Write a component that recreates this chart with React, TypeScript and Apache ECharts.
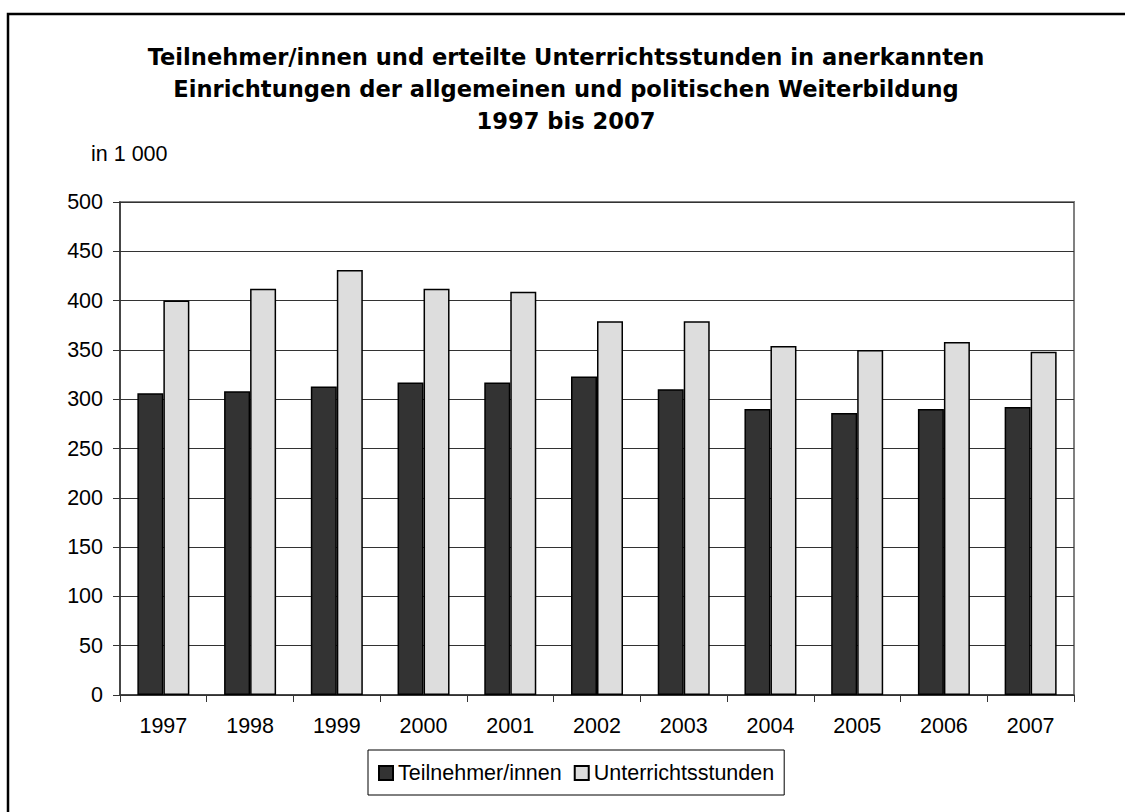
import React, { useEffect, useRef } from "react";
import * as echarts from "echarts";

const years = ["1997", "1998", "1999", "2000", "2001", "2002", "2003", "2004", "2005", "2006", "2007"];
const teilnehmer = [306, 308, 313, 317, 317, 323, 310, 290, 286, 290, 292];
const stunden = [400, 412, 431, 412, 409, 379, 379, 354, 350, 358, 348];
const titleLines = [
  "Teilnehmer/innen und erteilte Unterrichtsstunden in anerkannten",
  "Einrichtungen der allgemeinen und politischen Weiterbildung",
  "1997 bis 2007",
];
const unitLabel = "in 1 000";

const FONT = "'Liberation Sans', Arial, sans-serif";
const TITLE_FONT = "'DejaVu Sans', 'Liberation Sans', Arial, sans-serif";
const FS = 21.5;

export default function App() {
  const ref = useRef<HTMLDivElement>(null);
  useEffect(() => {
    if (!ref.current) return;
    const chart = echarts.init(ref.current, undefined, { renderer: "svg" });
    chart.setOption({
      animation: false,
      backgroundColor: "#ffffff",
      textStyle: { fontFamily: FONT },
      title: {
        text: titleLines.join("\n"),
        left: 566,
        top: 41,
        padding: 0,
        textAlign: "center",
        textStyle: {
          fontFamily: TITLE_FONT,
          fontSize: 22.6,
          fontWeight: "bold",
          lineHeight: 32,
          color: "#000",
        },
      },
      graphic: [
        {
          type: "rect",
          shape: { x: 8, y: 14, width: 1300, height: 1000 },
          style: { fill: "none", stroke: "#000", lineWidth: 2.5 },
          silent: true,
          z: 100,
        },
        {
          type: "text",
          x: 91,
          y: 154,
          style: {
            text: unitLabel,
            font: `${FS}px ${FONT}`,
            fill: "#000",
            textVerticalAlign: "middle",
          },
        },
      ],
      legend: {
        left: 368,
        top: 750,
        itemWidth: 14,
        itemHeight: 14,
        itemGap: 12,
        padding: [12, 10, 11, 10],
        borderColor: "#000",
        borderWidth: 1,
        icon: "rect",
        textStyle: { fontFamily: FONT, fontSize: FS, color: "#000", padding: [0, 0, 0, 0] },
        data: ["Teilnehmer/innen", "Unterrichtsstunden"],
      },
      grid: {
        left: 120,
        right: 51,
        top: 202,
        bottom: 117,
        show: true,
        borderColor: "#808080",
        borderWidth: 2,
        backgroundColor: "transparent",
      },
      xAxis: {
        type: "category",
        data: years,
        boundaryGap: true,
        axisLine: { lineStyle: { color: "#333", width: 1.5 } },
        axisTick: { show: true, length: 7, inside: false, lineStyle: { color: "#333" } },
        axisLabel: { fontFamily: FONT, fontSize: FS, color: "#000", margin: 20 },
      },
      yAxis: {
        type: "value",
        min: 0,
        max: 500,
        interval: 50,
        axisLine: { show: true, lineStyle: { color: "#333", width: 1.5 } },
        axisTick: { show: true, length: 7, lineStyle: { color: "#333" } },
        axisLabel: { fontFamily: FONT, fontSize: FS, color: "#000", margin: 17 },
        splitLine: { show: true, lineStyle: { color: "#333", width: 1 } },
      },
      series: [
        {
          name: "Teilnehmer/innen",
          type: "bar",
          data: teilnehmer,
          barWidth: 26,
          barGap: "0%",
          itemStyle: { color: "#333333", borderColor: "#000", borderWidth: 1.5 },
        },
        {
          name: "Unterrichtsstunden",
          type: "bar",
          data: stunden,
          barWidth: 26,
          barGap: "0%",
          itemStyle: { color: "#dddddd", borderColor: "#000", borderWidth: 1.5 },
        },
      ],
    });
    return () => chart.dispose();
  }, []);
  return (
    <div
      ref={ref}
      style={{ position: "fixed", left: 0, top: 0, width: 1125, height: 812 }}
    />
  );
}
